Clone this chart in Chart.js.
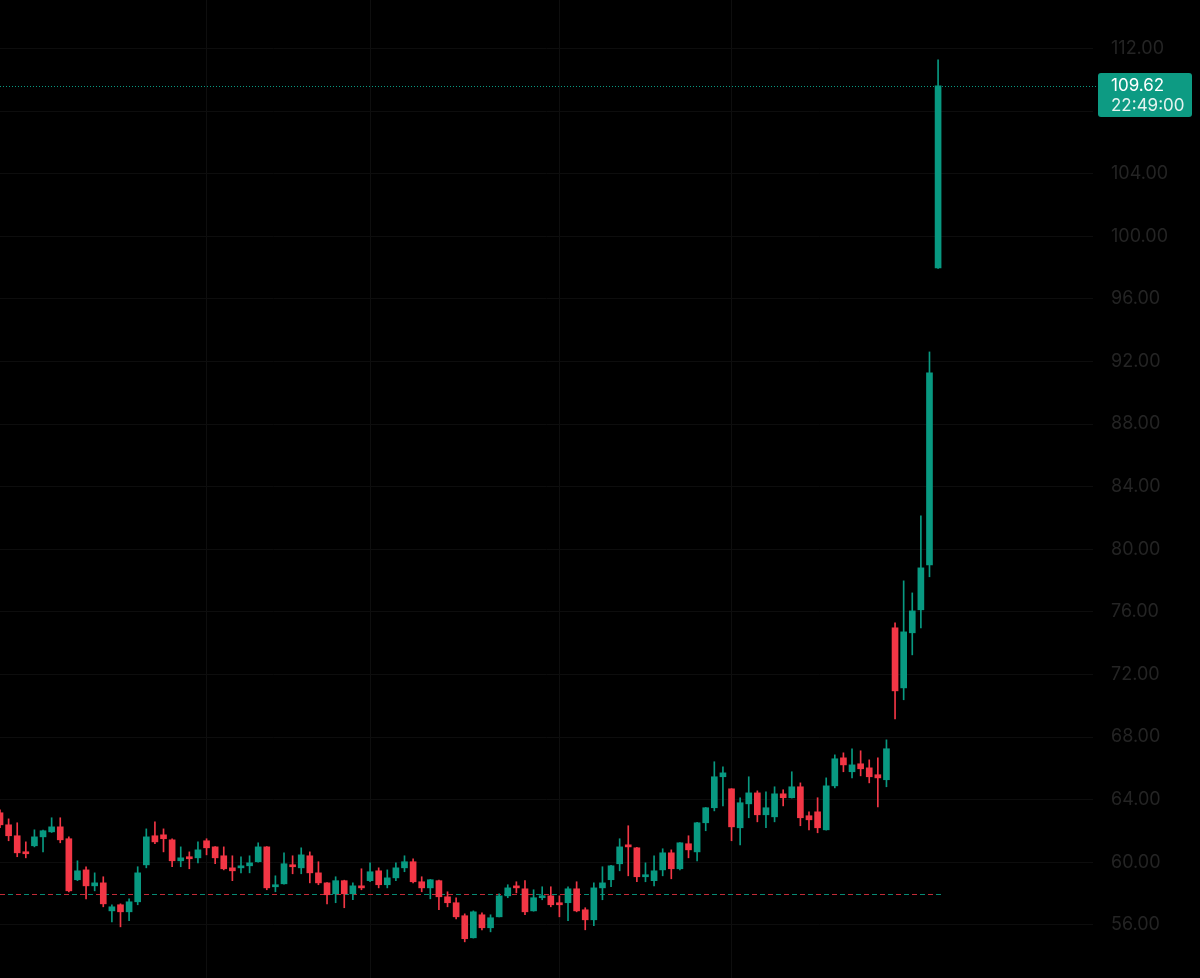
<!DOCTYPE html>
<html>
<head>
<meta charset="utf-8">
<title>Candles</title>
<script src="https://cdn.jsdelivr.net/npm/chart.js@4.4.0/dist/chart.umd.min.js"></script>
<style>
    html, body { margin: 0; padding: 0; background: #000; }
    #wrap { width: 1200px; height: 978px; }
</style>
</head>
<body>
<div id="wrap"><canvas id="candleChart" width="1200" height="978"></canvas></div>
<script>
// OHLC, one entry per candle (oldest first)
var opens = [
    63.16, 62.39, 61.69, 60.66, 61.05, 61.62, 61.94, 62.26, 61.50, 58.88,
    59.51, 58.49, 58.68, 56.89, 57.28, 56.83, 57.47, 59.83, 61.69, 61.75,
    61.43, 60.09, 60.35, 60.28, 61.37, 60.98, 60.41, 59.64, 59.64, 59.77,
    60.03, 60.98, 58.43, 58.62, 59.83, 59.64, 60.41, 59.32, 58.68, 57.98,
    58.82, 57.98, 58.49, 58.82, 59.45, 58.56, 59.00, 59.64, 60.03, 58.75,
    58.36, 58.82, 57.79, 57.41, 56.58, 55.17, 56.64, 55.81, 56.51, 57.85,
    58.43, 58.30, 56.89, 57.73, 57.85, 57.41, 57.41, 58.30, 56.96, 56.32,
    58.36, 58.88, 59.90, 61.11, 60.92, 59.07, 58.82, 59.51, 60.60, 59.58,
    61.18, 60.66, 62.52, 63.48, 65.46, 64.69, 62.20, 63.73, 64.43, 63.03,
    62.90, 64.37, 64.12, 64.82, 62.97, 63.22, 62.07, 64.88, 66.67, 65.78,
    66.29, 66.03, 65.59, 65.27, 74.98, 71.14, 74.66, 76.13, 79.00, 97.98
];
var highs = [
    63.35, 62.77, 62.52, 61.30, 62.07, 62.05, 62.84, 62.84, 61.62, 60.09,
    59.71, 59.32, 59.07, 57.28, 57.34, 57.66, 59.71, 62.13, 62.58, 62.13,
    61.50, 60.98, 60.66, 61.30, 61.50, 61.00, 60.98, 60.41, 60.35, 60.41,
    61.24, 61.00, 59.13, 60.60, 60.41, 60.92, 60.66, 60.03, 58.70, 59.07,
    58.85, 58.68, 59.58, 59.96, 59.64, 59.51, 59.96, 60.41, 60.22, 59.07,
    58.90, 58.85, 58.11, 57.73, 56.70, 56.89, 56.77, 56.64, 57.98, 58.56,
    58.75, 58.82, 58.24, 58.43, 58.43, 57.85, 58.43, 58.75, 57.09, 58.68,
    59.71, 59.80, 61.50, 62.33, 60.95, 59.96, 60.41, 60.86, 60.79, 61.26,
    61.69, 62.55, 63.50, 66.42, 66.10, 64.70, 64.12, 65.46, 64.56, 64.50,
    64.82, 64.63, 65.78, 65.07, 63.22, 64.12, 65.39, 66.86, 66.99, 67.25,
    67.12, 66.54, 66.67, 67.82, 75.30, 77.98, 77.21, 82.14, 92.61, 111.27
];
var lows = [
    62.20, 61.37, 60.35, 60.28, 60.98, 60.66, 61.90, 61.24, 58.10, 58.82,
    57.66, 58.17, 57.15, 56.19, 55.87, 56.26, 57.28, 59.64, 61.18, 60.66,
    59.71, 59.71, 59.58, 59.96, 60.47, 59.90, 59.51, 58.82, 59.32, 59.32,
    60.00, 58.24, 58.11, 58.60, 59.26, 59.26, 58.68, 58.56, 57.34, 57.41,
    57.09, 57.60, 58.24, 58.75, 58.36, 58.36, 58.82, 59.39, 58.68, 58.11,
    57.66, 56.96, 57.15, 56.38, 54.91, 55.15, 55.68, 55.55, 56.50, 57.73,
    58.04, 56.64, 56.87, 57.60, 57.15, 56.51, 56.26, 56.83, 55.68, 55.94,
    57.60, 58.43, 59.45, 59.13, 58.75, 58.75, 58.49, 59.13, 58.94, 59.51,
    60.28, 60.09, 62.01, 63.28, 63.60, 61.37, 61.11, 62.84, 62.58, 62.20,
    62.58, 63.60, 64.10, 62.33, 62.07, 61.88, 62.05, 64.75, 65.78, 65.39,
    65.52, 65.07, 63.54, 64.82, 69.16, 70.38, 73.25, 74.98, 78.24, 97.95
];
var closes = [
    62.39, 61.69, 60.60, 60.54, 61.62, 62.01, 62.26, 61.43, 58.17, 59.45,
    58.49, 58.68, 57.34, 57.15, 56.83, 57.47, 59.32, 61.62, 61.30, 61.50,
    60.09, 60.28, 60.22, 60.79, 60.92, 60.28, 59.58, 59.45, 59.77, 59.96,
    60.98, 58.36, 58.56, 59.90, 59.71, 60.47, 59.32, 58.68, 57.92, 58.82,
    57.98, 58.49, 58.36, 59.39, 58.56, 59.00, 59.64, 60.03, 58.75, 58.36,
    58.88, 57.79, 57.41, 56.51, 55.11, 56.83, 55.81, 56.45, 57.85, 58.36,
    58.36, 56.83, 57.73, 57.85, 57.28, 57.28, 58.30, 56.89, 56.32, 58.36,
    58.68, 59.77, 60.98, 60.98, 59.07, 59.20, 59.45, 60.60, 59.58, 61.24,
    60.79, 62.52, 63.48, 65.46, 65.71, 62.26, 63.80, 64.43, 63.03, 63.48,
    64.37, 64.12, 64.82, 62.84, 62.71, 62.20, 64.88, 66.61, 66.22, 66.22,
    65.97, 65.46, 65.39, 67.25, 70.95, 74.72, 76.06, 78.81, 91.27, 109.62
];

var yTicks = [56, 60, 64, 68, 72, 76, 80, 84, 88, 92, 96, 100, 104, 108, 112];
var lastPrice = 109.62;
var lastTimeText = '22:49:00';
var prevClose = 57.98;
var timeGridSlots = [24, 43, 65, 85];
var totalSlots = 128; // empty slots to the right of the last candle

var upColor = '#089981';
var downColor = '#f23645';

var slotLabels = [];
for (var i = 0; i < totalSlots; i++) {
    slotLabels.push(String(i));
}
var bodyData = opens.map(function(o, i) { return [o, closes[i]]; });
var wickData = lows.map(function(l, i) { return [l, highs[i]]; });
var candleColors = closes.map(function(c, i) { return c >= opens[i] ? upColor : downColor; });

var priceLinesPlugin = {
    id: 'priceLines',
    beforeDatasetsDraw: function(chart) {
        var c = chart.ctx;
        var ys = chart.scales.y;
        var xs = chart.scales.x;
        var yPrev = Math.round(ys.getPixelForValue(prevClose)) + 0.5;
        var xEnd = xs.getPixelForValue(opens.length - 1) + 4;
        c.save();
        c.lineWidth = 1;
        // previous close, red and green dashes
        c.setLineDash([5, 11]);
        c.strokeStyle = 'rgba(242,54,69,0.8)';
        c.lineDashOffset = 0;
        c.beginPath(); c.moveTo(0, yPrev); c.lineTo(xEnd, yPrev); c.stroke();
        c.strokeStyle = 'rgba(8,153,129,0.9)';
        c.lineDashOffset = -8;
        c.beginPath(); c.moveTo(0, yPrev); c.lineTo(xEnd, yPrev); c.stroke();
        // last price dotted line
        var yLast = Math.round(ys.getPixelForValue(lastPrice)) + 0.5;
        c.setLineDash([1, 2]);
        c.lineDashOffset = 0;
        c.strokeStyle = upColor;
        c.beginPath(); c.moveTo(0, yLast); c.lineTo(chart.chartArea.right + 5, yLast); c.stroke();
        c.restore();
    },
    afterDraw: function(chart) {
        var c = chart.ctx;
        var ys = chart.scales.y;
        var yLast = Math.round(ys.getPixelForValue(lastPrice));
        var bx = chart.chartArea.right + 5;
        c.save();
        c.fillStyle = '#0d9b83';
        c.beginPath();
        c.roundRect(bx, yLast - 13, 94, 44, 3);
        c.fill();
        c.font = '17px Inter';
        c.textBaseline = 'middle';
        c.fillStyle = '#ffffff';
        c.fillText(lastPrice.toFixed(2), bx + 13, yLast);
        c.fillStyle = '#e4f3ef';
        c.fillText(lastTimeText, bx + 13, yLast + 20);
        c.restore();
    }
};

var ctx = document.getElementById('candleChart').getContext('2d');
var candleChart = new Chart(ctx, {
    type: 'bar',
    data: {
        labels: slotLabels,
        datasets: [
        {
            label: 'Body',
            data: bodyData,
            backgroundColor: candleColors,
            borderWidth: 0,
            barThickness: 6,
            minBarLength: 2,
            grouped: false
        },
        {
            label: 'Wick',
            data: wickData,
            backgroundColor: candleColors,
            borderWidth: 0,
            barThickness: 1,
            grouped: false
        }
        ]
    },
    options: {
        responsive: false,
        animation: false,
        devicePixelRatio: 1,
        layout: { padding: 0 },
        plugins: {
            legend: { display: false },
            tooltip: { enabled: false }
        },
        scales: {
            x: {
                offset: false,
                grid: {
                    offset: false,
                    drawTicks: false,
                    color: function(c) {
                        return timeGridSlots.indexOf(c.index) >= 0 ? '#0e0e0e' : 'rgba(0,0,0,0)';
                    }
                },
                ticks: { display: false },
                border: { display: false }
            },
            y: {
                position: 'right',
                min: 52.6,
                max: 115.1,
                afterBuildTicks: function(scale) {
                    scale.ticks = yTicks.map(function(v) { return { value: v }; });
                },
                afterFit: function(scale) {
                    scale.width = 107;
                    // let the plot run to the top and bottom edges
                    scale.paddingTop = 0;
                    scale.paddingBottom = 0;
                },
                grid: { color: '#0d0d0d', drawTicks: false },
                border: { display: false },
                ticks: {
                    color: '#242424',
                    padding: 18,
                    font: { family: 'Inter', size: 18 },
                    callback: function(v) { return Number(v).toFixed(2); }
                }
            }
        }
    },
    plugins: [priceLinesPlugin]
});
</script>
</body>
</html>
